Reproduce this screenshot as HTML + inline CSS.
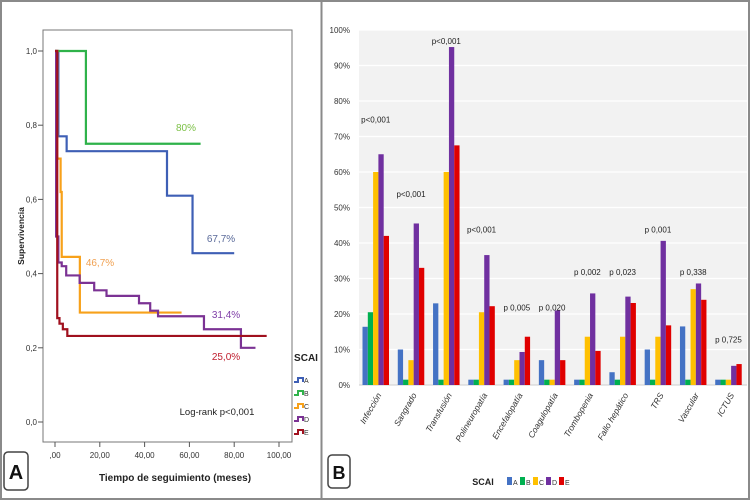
<!DOCTYPE html>
<html><head><meta charset="utf-8"><style>
body{margin:0;background:#fff;font-family:"Liberation Sans",sans-serif}
svg{display:block}
</style></head><body>
<svg width="750" height="500" viewBox="0 0 750 500" font-family="Liberation Sans, sans-serif">
<rect x="1" y="1" width="748" height="498" fill="#fff" stroke="#8a8a8a" stroke-width="2"/>
<line x1="321.5" y1="0" x2="321.5" y2="500" stroke="#8a8a8a" stroke-width="2"/>
<g id="km"></g>
<g id="bars"></g>
</svg>
<script>
// ---------- Panel A: Kaplan-Meier ----------
const kmGroups = ['A','B','C','D','E'];
const kmColors = ['#3e5fb5','#2fb24a','#f7a11a','#7b3294','#a0101e'];
const kmA = [[0,1],[1.5,0.77],[5.2,0.73],[50,0.61],[61.4,0.455],[80,0.455]];
const kmB = [[0,1],[13.8,0.75],[65,0.75]];
const kmC = [[0,1],[1,0.71],[2.5,0.62],[3,0.445],[11.1,0.295],[56.5,0.295]];
const kmD = [[0,1],[0.5,0.5],[1.5,0.43],[3,0.42],[5,0.395],[11,0.375],[17.5,0.355],[23,0.34],[37.5,0.32],[42.5,0.30],[46,0.285],[66.5,0.25],[83,0.20],[89.5,0.20]];
const kmE = [[0,1],[1,0.28],[2,0.265],[3.5,0.25],[5.5,0.232],[94.5,0.232]];
const kmSeries = [kmA,kmB,kmC,kmD,kmE];
const kmYTicks = [0,0.2,0.4,0.6,0.8,1.0];
const kmYLabels = ['0,0','0,2','0,4','0,6','0,8','1,0'];
const kmXTicks = [0,20,40,60,80,100];
const kmXLabels = [',00','20,00','40,00','60,00','80,00','100,00'];

// ---------- Panel B: bars ----------
const categories = ['Infección','Sangrado','Transfusión','Polineuropatía','Encefalopatía','Coagulopatía','Trombopenia','Fallo hepático','TRS','Vascular','ICTUS'];
const barSeriesNames = ['A','B','C','D','E'];
const barColors = ['#4472c4','#00b050','#ffc000','#7030a0','#e00000'];
const valA = [16.4,10,23,1.5,1.5,7,1.5,3.6,10,16.5,1.5];
const valB = [20.5,1.5,1.5,1.5,1.5,1.5,1.5,1.5,1.5,1.5,1.5];
const valC = [60,7,60,20.5,7,1.5,13.6,13.6,13.6,27,1.5];
const valD = [65,45.5,95.2,36.6,9.3,21,25.8,24.9,40.6,28.6,5.4];
const valE = [42,33,67.5,22.2,13.6,7,9.6,23.1,16.8,24,5.9];
const barValues = [valA,valB,valC,valD,valE];
const pLabels = ['p<0,001','p<0,001','p<0,001','p<0,001','p 0,005','p 0,020','p 0,002','p 0,023','p 0,001','p 0,338','p 0,725'];
const pLabelY = [74,53,96,43,21,21,31,31,43,31,12];
const barYTicks = [0,10,20,30,40,50,60,70,80,90,100];

const NS='http://www.w3.org/2000/svg';
function mk(parent,tag,attrs,text){const e=document.createElementNS(NS,tag);for(const k in attrs)e.setAttribute(k,attrs[k]);if(text!==undefined)e.textContent=text;parent.appendChild(e);return e;}

// ----- draw KM -----
const km=document.getElementById('km');
const kx=t=>55+t*2.24, ky=s=>422-s*371;
let e=mk(km,'rect',{x:43,y:30,width:249,height:412,fill:'#fff',stroke:'#777','stroke-width':1});

kmYTicks.forEach((v,i)=>{
  let t=mk(km,'line',{x1:38,x2:43,y1:ky(v),y2:ky(v),stroke:'#555'});
  
  let l=mk(km,'text',{x:37,y:ky(v)+3,'text-anchor':'end','font-size':8,fill:'#333'},kmYLabels[i]);
  
});
kmXTicks.forEach((v,i)=>{
  let t=mk(km,'line',{x1:kx(v),x2:kx(v),y1:442,y2:447,stroke:'#555'});
  
  let l=mk(km,'text',{x:kx(v),y:458,'text-anchor':'middle','font-size':8,fill:'#333'},kmXLabels[i]);
  
});
kmSeries.forEach((s,i)=>{
  let d='M'+kx(s[0][0])+','+ky(s[0][1]);
  for(let j=1;j<s.length;j++){d+=' H'+kx(s[j][0])+' V'+ky(s[j][1]);}
  let p=mk(km,'path',{d:d,fill:'none',stroke:kmColors[i],'stroke-width':2.2});
  
  
});
const kmTexts=[[186,131,'80%','#7cc046'],[221,242,'67,7%','#5a6a9a'],[100,266,'46,7%','#f0a050'],[226,318,'31,4%','#8040a8'],[226,360,'25,0%','#c02030']];
kmTexts.forEach(a=>{let t=mk(km,'text',{x:a[0],y:a[1],'text-anchor':'middle','font-size':10,fill:a[3]},a[2]);
  });
e=mk(km,'text',{x:217,y:415,'text-anchor':'middle','font-size':9.5,fill:'#222'},'Log-rank p<0,001');

e=mk(km,'text',{x:175,y:481,'text-anchor':'middle','font-size':10,fill:'#222','font-weight':'bold'},'Tiempo de seguimiento (meses)');

e=mk(km,'text',{x:0,y:0,transform:'translate(24,236) rotate(-90)','text-anchor':'middle','font-size':8.5,fill:'#222','font-weight':'bold'},'Supervivencia');

e=mk(km,'text',{x:306,y:361,'text-anchor':'middle','font-size':10,fill:'#222','font-weight':'bold'},'SCAI');

kmGroups.forEach((g,i)=>{
  const y=379+i*13;
  let p=mk(km,'path',{d:`M294,${y+3} H298 V${y-1} H303 V${y+3}`,fill:'none',stroke:kmColors[i],'stroke-width':2});
  
  let t=mk(km,'text',{x:304,y:y+4,'font-size':7,fill:'#333'},g);
  
});
e=mk(km,'rect',{x:4,y:452,width:24,height:38,rx:4,fill:'#fff',stroke:'#444','stroke-width':1.5});

e=mk(km,'text',{x:16,y:479,'text-anchor':'middle','font-size':20,'font-weight':'bold',fill:'#111'},'A');


// ----- draw bars -----
const bg=document.getElementById('bars');
const px0=359,px1=747,gw=(px1-px0)/categories.length;
const by=v=>385-v*3.55;
e=mk(bg,'rect',{x:px0,y:30,width:px1-px0,height:355,fill:'#f2f2f2'});

barYTicks.forEach(v=>{
  let g=mk(bg,'line',{x1:px0,x2:px1,y1:by(v),y2:by(v),stroke:'#fff','stroke-width':1.2});
  
  let l=mk(bg,'text',{x:350,y:by(v)+3,'text-anchor':'end','font-size':8,fill:'#333'},v+'%');
  
});
e=mk(bg,'line',{x1:px0,x2:px1,y1:385,y2:385,stroke:'#ccc'});

const bw=5.3;
categories.forEach((c,ci)=>{
  const gx=px0+ci*gw+3.5;
  barSeriesNames.forEach((s,si)=>{
    const v=barValues[si][ci];
    let r=mk(bg,'rect',{x:gx+si*bw,y:by(v),width:bw,height:385-by(v),fill:barColors[si]});
    
    
  });
  const cx=gx+2.5*bw;
  let p=mk(bg,'text',{x:cx,y:by(pLabelY[ci]),'text-anchor':'middle','font-size':8,fill:'#222'},pLabels[ci]);
  
  let t=mk(bg,'text',{x:0,y:0,transform:`translate(${cx+6},395) rotate(-60)`,'text-anchor':'end','font-size':8.5,'font-style':'italic',fill:'#333'},c);
  
});
e=mk(bg,'text',{x:483,y:485,'text-anchor':'middle','font-size':9,'font-weight':'bold',fill:'#222'},'SCAI');

barSeriesNames.forEach((s,i)=>{
  const x=507+i*13;
  let r=mk(bg,'rect',{x:x,y:477,width:5,height:8,fill:barColors[i]});
  
  let t=mk(bg,'text',{x:x+6,y:485,'font-size':7,fill:'#333'},s);
  
});
e=mk(bg,'rect',{x:328,y:455,width:22,height:33,rx:4,fill:'#fff',stroke:'#444','stroke-width':1.5});

e=mk(bg,'text',{x:339,y:479,'text-anchor':'middle','font-size':18,'font-weight':'bold',fill:'#111'},'B');

</script>
</body></html>
